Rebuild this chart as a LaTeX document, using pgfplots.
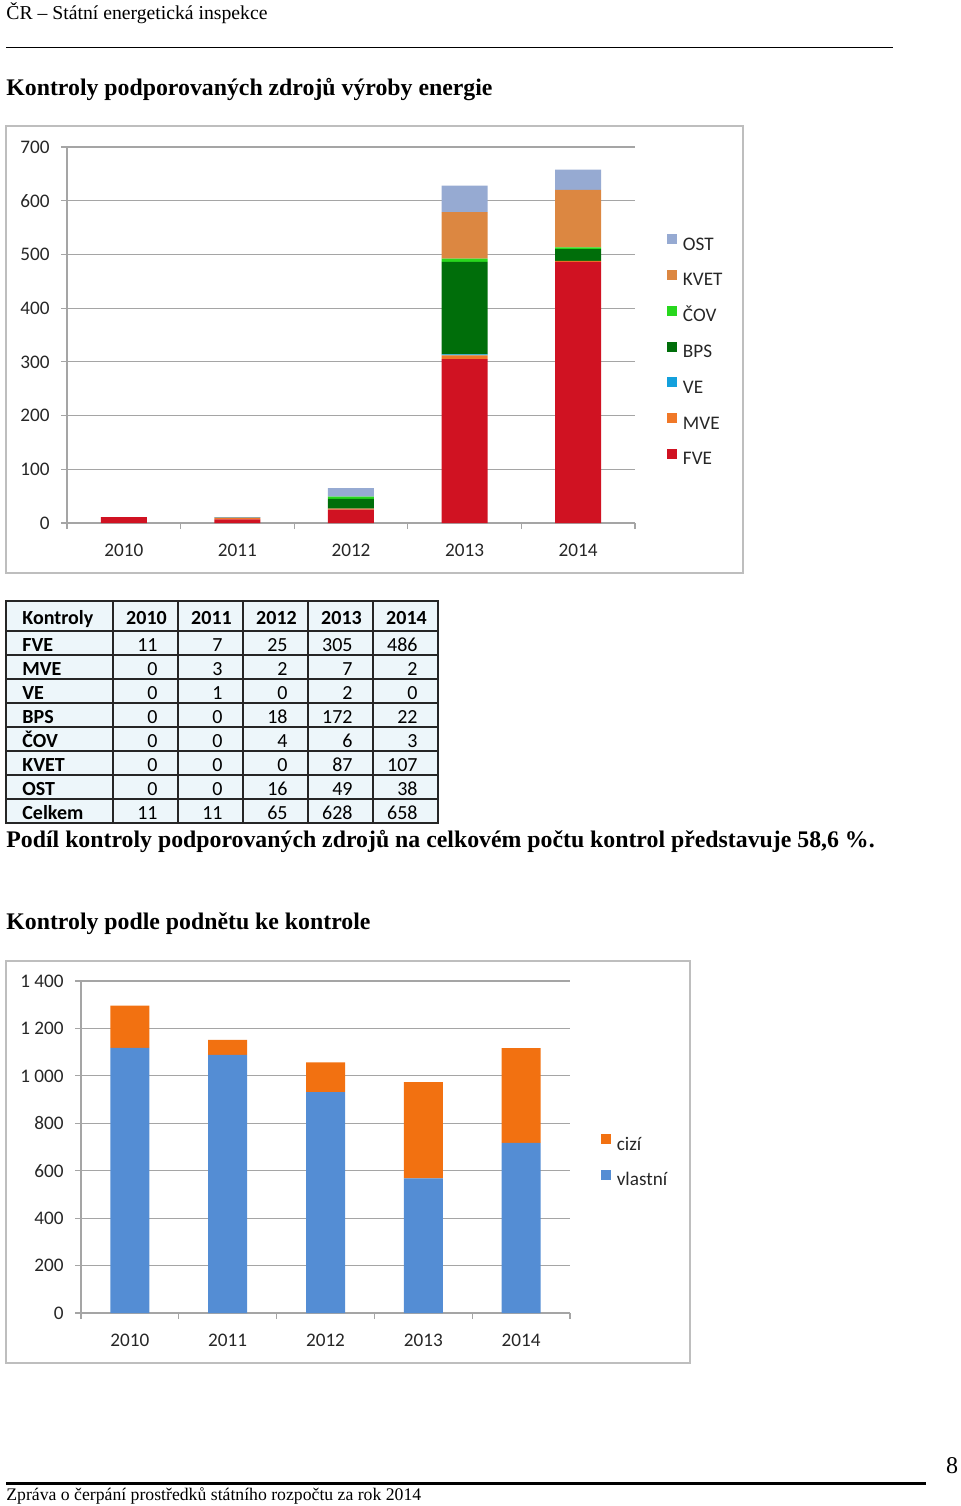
\documentclass[border=0pt]{standalone}
\usepackage{pgfplots}
\pgfplotsset{compat=1.18}
\usepackage{pgfplotstable}
\usepackage{fontspec}
\setmainfont{Liberation Serif}
\newfontfamily\calib{Carlito}

\definecolor{cFVE}{RGB}{208,18,34}
\definecolor{cMVE}{RGB}{240,120,40}
\definecolor{cVE}{RGB}{20,160,220}
\definecolor{cBPS}{RGB}{0,110,10}
\definecolor{cCOV}{RGB}{40,215,30}
\definecolor{cKVET}{RGB}{220,135,65}
\definecolor{cOST}{RGB}{150,170,210}
\definecolor{cizi}{RGB}{242,113,17}
\definecolor{vlastni}{RGB}{84,141,212}
\definecolor{gridc}{RGB}{165,165,165}
\definecolor{framec}{RGB}{190,190,190}
\definecolor{tabbg}{RGB}{237,246,250}

\pgfplotstableread{
x FVE MVE VE BPS COV KVET OST
0 11 0 0 0 0 0 0
1 7 3 1 0 0 0 0
2 25 2 0 18 4 0 16
3 305 7 2 172 6 87 49
4 486 2 0 22 3 107 38
}\tabA

\pgfplotstableread{
x vlastni cizi
0 1118 178
1 1089 63
2 931 126
3 568 406
4 717 400
}\tabB

\pgfplotsset{excel/.style={
  scale only axis, ybar stacked,
  xmin=-0.5, xmax=4.5,
  axis x line*=bottom, axis y line*=left,
  axis line style={draw=gridc, line width=0.6pt},
  ymajorgrids, grid style={gridc, line width=0.6pt},
  ytick style={draw=gridc, line width=0.6pt},
  xtick={-0.5,0.5,1.5,2.5,3.5,4.5}, xticklabels={},
  xtick style={draw=gridc, line width=0.6pt},
  tick align=outside, major tick length=3pt,
  extra x ticks={0,1,2,3,4},
  extra x tick labels={2010,2011,2012,2013,2014},
  extra x tick style={major tick length=0pt, xticklabel style={yshift=-7pt}},
  tick label style={font=\calib\fontsize{9.6}{11}\selectfont, text=black!85},
  yticklabel style={xshift=-2.2pt},
  /pgf/number format/assume math mode=true,
  legend style={draw=none, fill=none, inner sep=0pt, outer sep=0pt,
    font=\calib\fontsize{9.6}{11}\selectfont, text=black!85,
    row sep=7.9pt, nodes={inner sep=0pt, text height=7pt, text depth=2pt},
    /tikz/every odd column/.append style={column sep=3pt}},
  legend cell align=left,
  legend image code/.code={\fill[##1] (0pt,0.5pt) rectangle (5pt,5.5pt);},
  reverse legend,
}}

\begin{document}
\begin{tikzpicture}
\path[use as bounding box] (0,0) rectangle (480pt,-753pt);
% page header
\node[anchor=west, inner sep=0pt, font=\fontsize{9.85}{11}\selectfont] at (3pt,-6.8pt) {ČR – Státní energetická inspekce};
\draw[line width=0.5pt] (3pt,-23.5pt) -- (446.5pt,-23.5pt);
\node[anchor=west, inner sep=0pt, font=\bfseries\fontsize{11.9}{14}\selectfont] at (3pt,-45pt) {Kontroly podporovaných zdrojů výroby energie};

% chart 1
\draw[framec, line width=0.6pt] (3pt,-63pt) rectangle (371.5pt,-286.5pt);
\begin{axis}[excel, at={(33.5pt,-261.5pt)}, anchor=south west,
  width=284pt, height=188pt, ymin=0, ymax=700, ytick={0,100,...,700},
  bar width=23pt,
  legend style={at={(1.0563,0.456)}, anchor=west}]
\addplot[fill=cFVE, draw=none] table[x=x,y=FVE]{\tabA};
\addplot[fill=cMVE, draw=none] table[x=x,y=MVE]{\tabA};
\addplot[fill=cVE, draw=none] table[x=x,y=VE]{\tabA};
\addplot[fill=cBPS, draw=none] table[x=x,y=BPS]{\tabA};
\addplot[fill=cCOV, draw=none] table[x=x,y=COV]{\tabA};
\addplot[fill=cKVET, draw=none] table[x=x,y=KVET]{\tabA};
\addplot[fill=cOST, draw=none] table[x=x,y=OST]{\tabA};
\legend{FVE,MVE,VE,BPS,ČOV,KVET,OST}
\end{axis}

% table
\fill[tabbg] (3pt,-300.5pt) rectangle (219pt,-411.5pt);
\foreach \y in {-327.5,-339.5,-351.5,-363.5,-375.5,-387.5,-399.5}
  \draw[line width=0.8pt, black!85] (3pt,\y pt) -- (219pt,\y pt);
\draw[line width=1.4pt, black!85] (3pt,-315.5pt) -- (219pt,-315.5pt);
\foreach \x in {56.5,89,121.5,154,186.5}
  \draw[line width=1.1pt, black!85] (\x pt,-300.5pt) -- (\x pt,-411.5pt);
\draw[line width=1.3pt, black!85] (3pt,-300.5pt) rectangle (219pt,-411.5pt);
\begin{scope}[every node/.style={inner sep=0pt, font=\calib\fontsize{10}{12}\selectfont, text=black}]
\node[anchor=base west, font=\calib\bfseries\fontsize{10}{12}\selectfont] at (11pt,-312.3pt) {Kontroly};
\foreach \yr/\xc in {2010/73.25,2011/105.75,2012/138.25,2013/170.75,2014/203.25}
  \node[anchor=base, font=\calib\bfseries\fontsize{10}{12}\selectfont] at (\xc pt,-312.3pt) {\yr};
\foreach \lab [count=\i] in {FVE,MVE,VE,BPS,ČOV,KVET,OST,Celkem}
  \node[anchor=base west, font=\calib\bfseries\fontsize{10}{12}\selectfont] at (11pt,{-313.8pt-12pt*\i}) {\lab};
\foreach \xr/\vals in {79/{11,0,0,0,0,0,0,11},111.5/{7,3,1,0,0,0,0,11},144/{25,2,0,18,4,0,16,65},176.5/{305,7,2,172,6,87,49,628},209/{486,2,0,22,3,107,38,658}}
  {\foreach \v [count=\i] in \vals
    \node[anchor=base east] at (\xr pt,{-313.8pt-12pt*\i}) {\v};}
\end{scope}

\node[anchor=west, inner sep=0pt, font=\bfseries\fontsize{11.9}{14}\selectfont] at (3pt,-420.5pt) {Podíl kontroly podporovaných zdrojů na celkovém počtu kontrol představuje 58,6 \%.};
\node[anchor=west, inner sep=0pt, font=\bfseries\fontsize{11.9}{14}\selectfont] at (3pt,-462pt) {Kontroly podle podnětu ke kontrole};

% chart 2
\draw[framec, line width=0.6pt] (3pt,-480.5pt) rectangle (345pt,-681.5pt);
\begin{axis}[excel, at={(40.5pt,-656.5pt)}, anchor=south west,
  width=244.5pt, height=166pt, ymin=0, ymax=1400, ytick={0,200,...,1400},
  yticklabels={0,200,400,600,800,1 000,1 200,1 400},
  bar width=19.5pt,
  legend style={at={(1.063,0.4548)}, anchor=west}]
\addplot[fill=vlastni, draw=none] table[x=x,y=vlastni]{\tabB};
\addplot[fill=cizi, draw=none] table[x=x,y=cizi]{\tabB};
\legend{vlastní,cizí}
\end{axis}

% footer
\node[anchor=center, inner sep=0pt, font=\fontsize{12}{14}\selectfont] at (476pt,-733pt) {8};
\draw[line width=1.5pt] (3pt,-741.5pt) -- (463pt,-741.5pt);
\node[anchor=west, inner sep=0pt, font=\fontsize{8.85}{10}\selectfont] at (3pt,-748pt) {Zpráva o čerpání prostředků státního rozpočtu za rok 2014};
\end{tikzpicture}
\end{document}
